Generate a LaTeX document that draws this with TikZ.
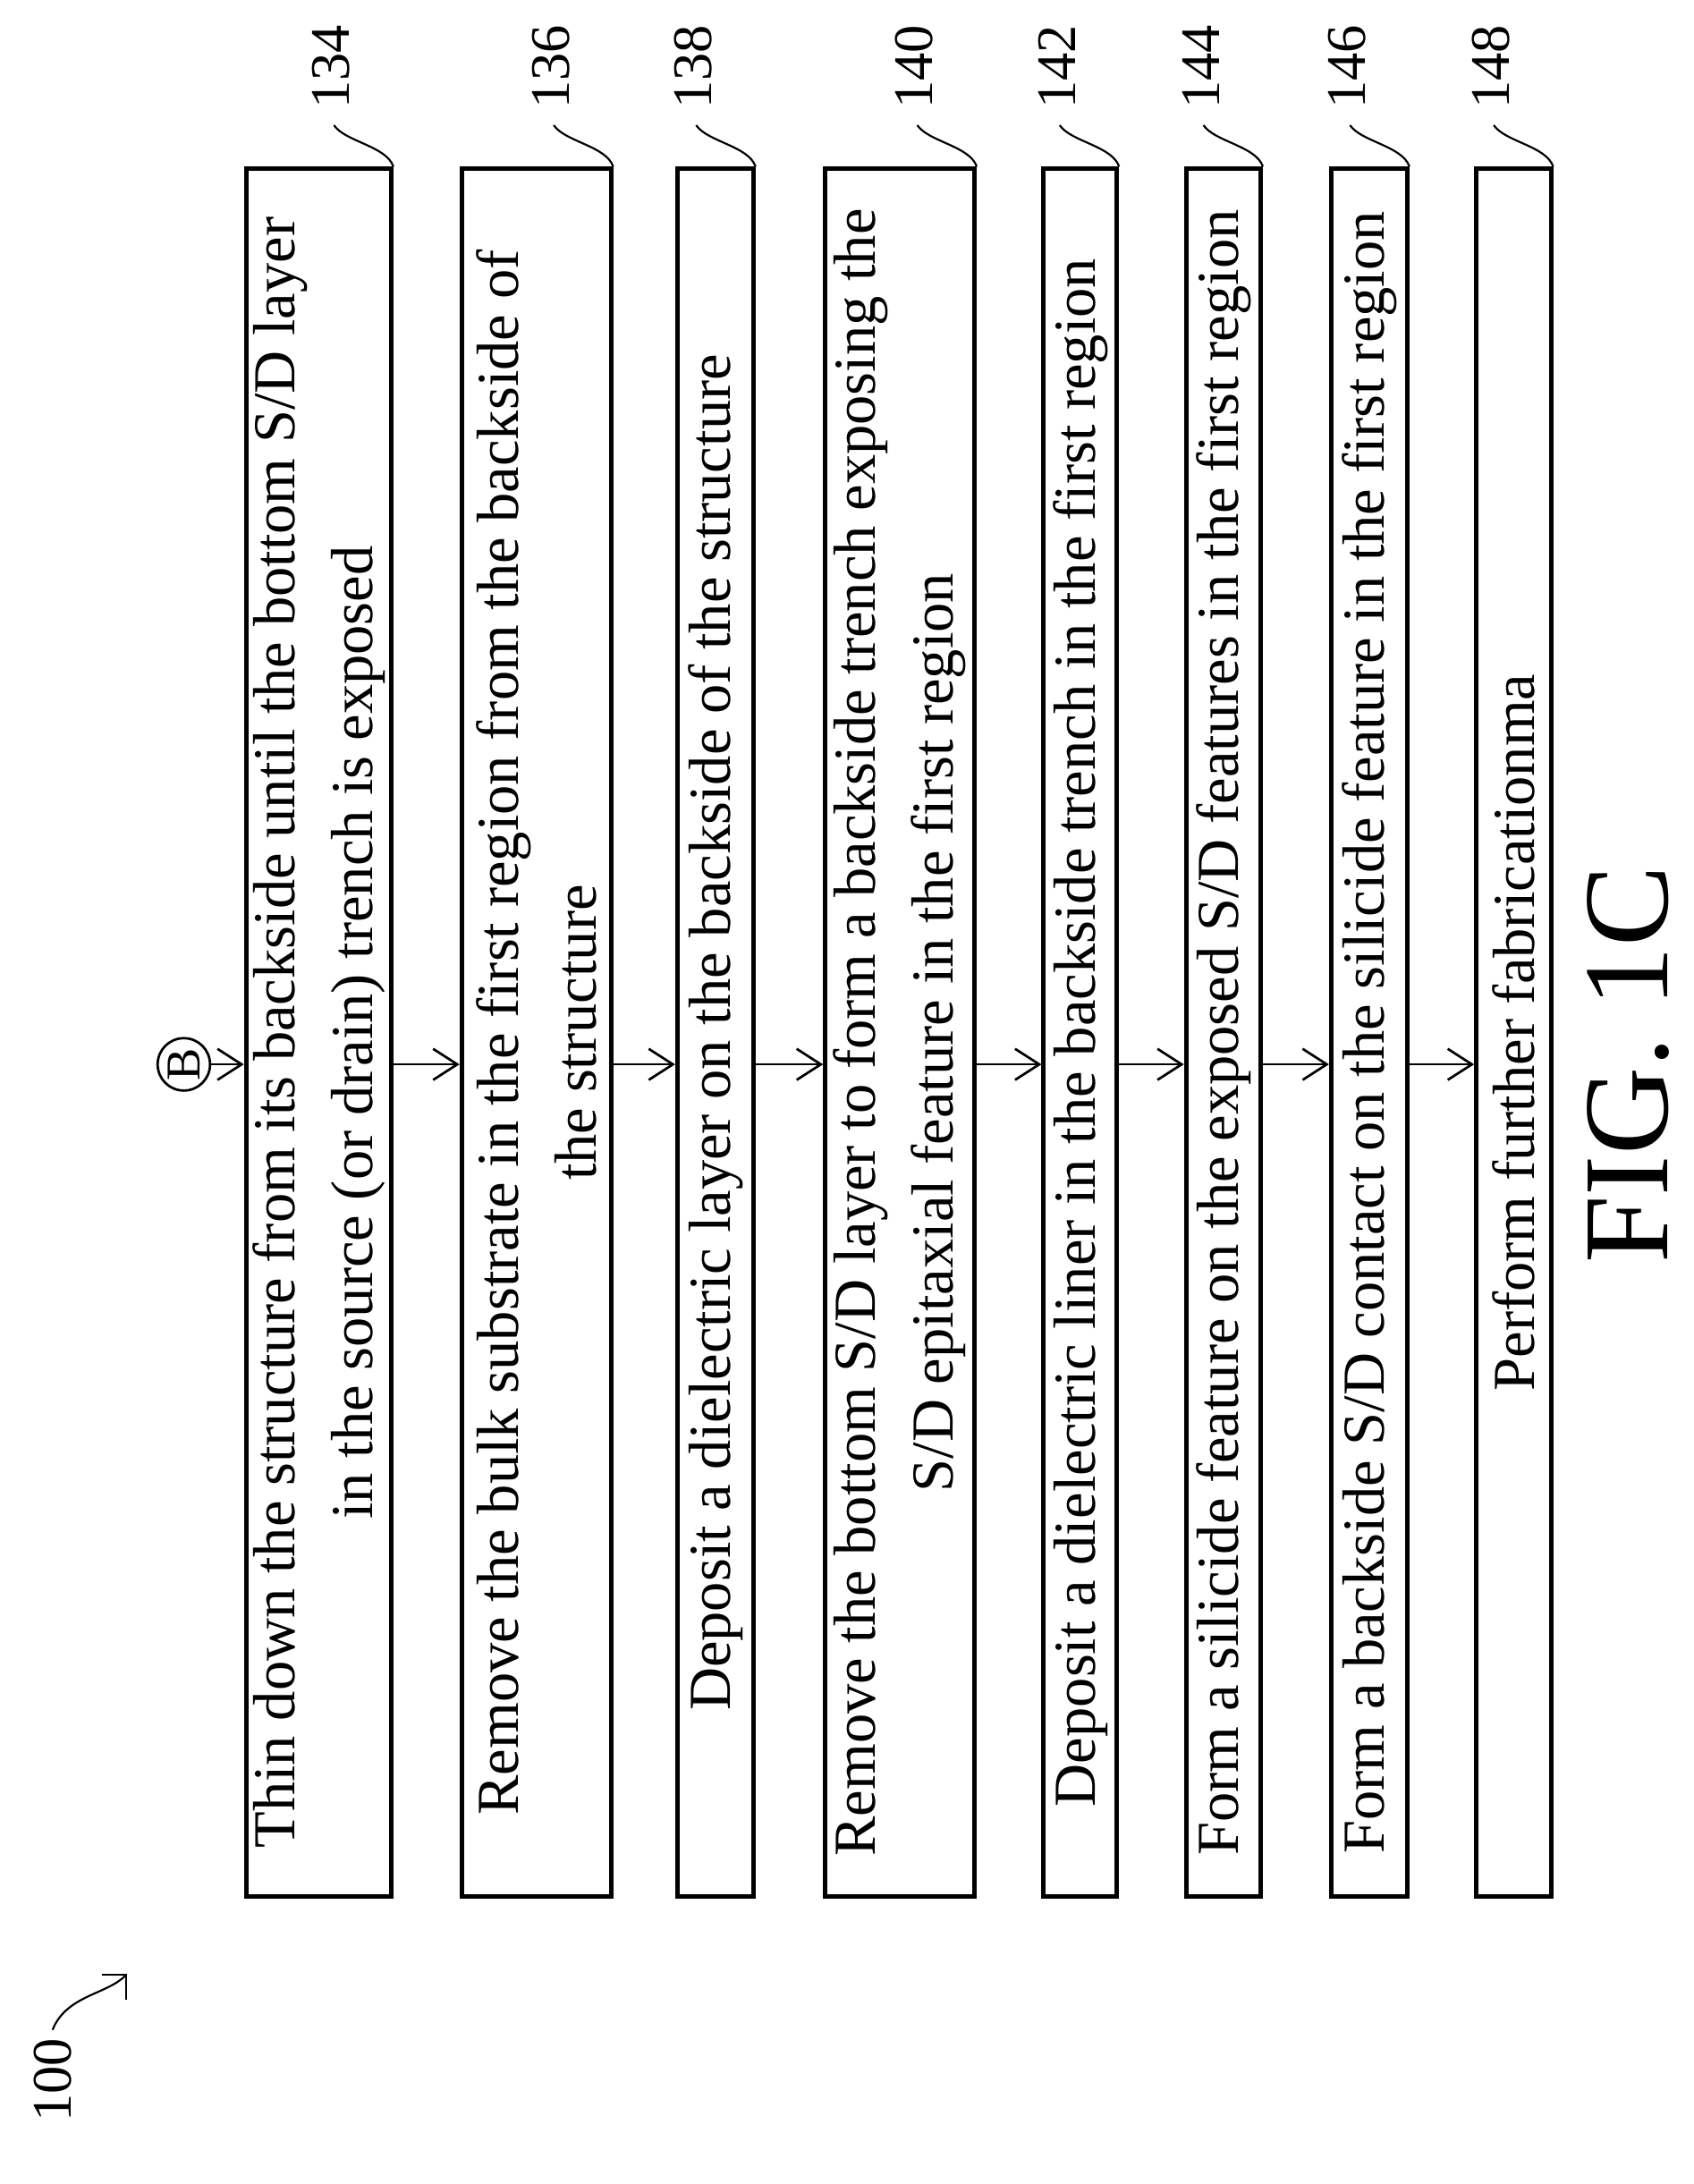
\documentclass[tikz,border=0pt]{standalone}
\usepackage{fontspec}
\setmainfont{Liberation Serif}
\usetikzlibrary{arrows.meta}
\usetikzlibrary{calc}
\begin{document}
\begin{tikzpicture}[x=0.02cm,y=-0.02cm,
	stepbox/.style={draw,line width=1.8pt,rotate=90,minimum width=25cm,align=center,inner sep=0pt,font=\fontsize{24.5}{32}\selectfont},
	steplabel/.style={rotate=90,font=\fontsize{23}{26}\selectfont},
	flow/.style={-{Straight Barb[length=3.5mm,width=4.5mm]},line width=1pt}]
	\useasboundingbox (0,0) rectangle (1225,1580);

	%Process steps
	\node [stepbox,minimum height=2.1cm] (b134) at (230.5,747) {Thin down the structure from its backside until the bottom S/D layer\\in the source (or drain) trench is exposed};
	\node [stepbox,minimum height=2.16cm] (b136) at (388,747) {Remove the bulk substrate in the first region from the backside of\\the structure};
	\node [stepbox,minimum height=1.1cm] (b138) at (517.5,747) {Deposit a dielectric layer on the backside of the structure};
	\node [stepbox,minimum height=2.16cm] (b140) at (651,747) {Remove the bottom S/D layer to form a backside trench exposing the\\S/D epitaxial feature in the first region};
	\node [stepbox,minimum height=1.06cm] (b142) at (781.5,747) {Deposit a dielectric liner in the backside trench in the first region};
	\node [stepbox,minimum height=1.08cm] (b144) at (885,747) {Form a silicide feature on the exposed S/D features in the first region};
	\node [stepbox,minimum height=1.1cm] (b146) at (990.5,747) {Form a backside S/D contact on the silicide feature in the first region};
	\node [stepbox,minimum height=1.08cm] (b148) at (1095,747) {Perform further fabricationma};

	%Connector B
	\node [draw,circle,line width=1pt,inner sep=1pt,minimum size=0.7cm,rotate=90,font=\fontsize{20}{22}\selectfont] (B) at (133,770) {B};
	\draw [flow] (B) -- (b134.north |- B);
	\foreach \a/\b in {134/136,136/138,138/140,140/142,142/144,144/146,146/148}
		\draw [flow] (b\a.south |- B) -- (b\b.north |- B);

	%Step numbers
	\foreach \n in {134,136,138,140,142,144,146,148} {
		\node [steplabel] (l\n) at ($(b\n.south east)+(-45,-72)$) {\n};
		\draw [line width=0.8pt] (b\n.south east) .. controls +(-5,-15) and +(8,12) .. ($(b\n.south east)+(-43,-30)$);
	}

	%Figure title and reference
	\node [rotate=90,font=\fontsize{50}{54}\selectfont] (fig) at (1178,770) {FIG. 1C};
	\node [steplabel] (ref) at (38,1505) {100};
	\coordinate (tip) at (92,1428);
	\draw [line width=0.8pt,-{Straight Barb[length=2.5mm]}] (ref.east) .. controls +(10,-25) and +(-15,15) .. (tip);
\end{tikzpicture}
\end{document}
